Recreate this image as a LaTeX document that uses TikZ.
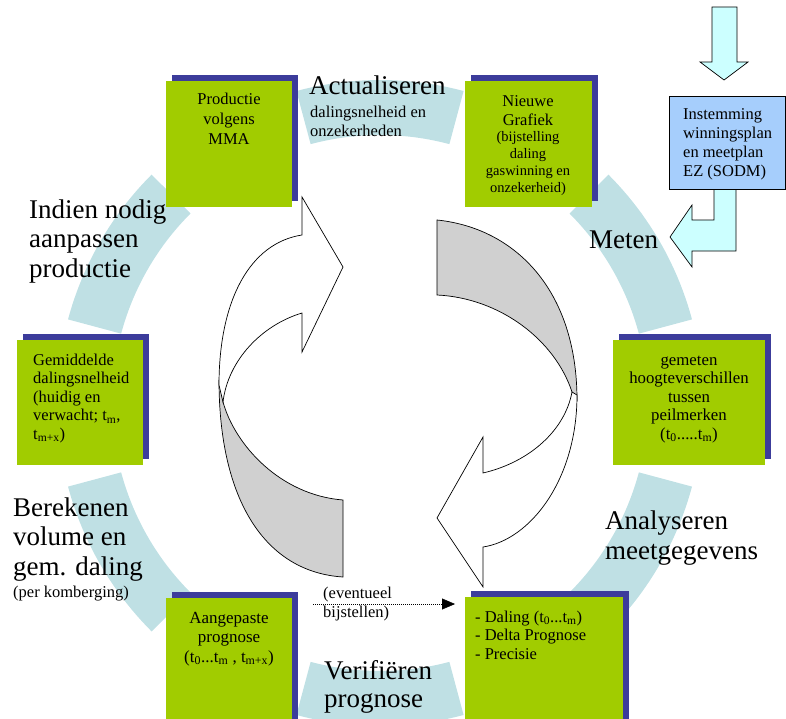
\documentclass[tikz,border=0pt]{standalone}
\usepackage{fontspec}
\setmainfont{Liberation Serif}
\usetikzlibrary{arrows.meta,calc}
\definecolor{ringc}{RGB}{191,224,228}
\definecolor{boxg}{RGB}{161,204,0}
\definecolor{shad}{RGB}{60,60,155}
\definecolor{instc}{RGB}{166,206,252}
\definecolor{arrc}{RGB}{204,255,255}
\definecolor{grayc}{RGB}{208,208,208}
\begin{document}
\begin{tikzpicture}[x=1pt,y=-1pt,
  ringseg/.style={fill=ringc},
  gbox/.style={fill=boxg, draw=none, inner sep=0pt, anchor=north west},
  sbox/.style={fill=shad, draw=none, inner sep=0pt, anchor=north west},
  arrg/.style={fill=grayc, draw=black, line width=0.7pt},
  arrw/.style={fill=white, draw=black, line width=0.7pt},
  blockarr/.style={fill=arrc, draw=black, line width=0.7pt},
  big/.style={font=\fontsize{27}{29.5}\selectfont, inner sep=0pt, align=left, anchor=base west},
  mid/.style={font=\fontsize{16.5}{19}\selectfont, inner sep=0pt},
  small/.style={font=\fontsize{14.5}{17}\selectfont, inner sep=0pt},
  sub/.style={font=\fontsize{16.5}{19}\selectfont, inner sep=0pt, align=left, anchor=base west}
]
\useasboundingbox (0,0) rectangle (786,719);
\clip (0,0) rectangle (786,719);

% ring segments
\begin{scope}[shift={(380,403)}]
\foreach \a/\b in {15/45,75/105,135/165,195/225,255/285,315/345}{
  \fill[ringseg] plot[domain=\a:\b, samples=24] (\x:323) -- plot[domain=\b:\a, samples=24] (\x:268) -- cycle;
}
\end{scope}

% central arrows
\filldraw[arrg] (219,380) .. controls (219,500) and (265,572) .. (343,577) -- (343,500) .. controls (280,495) and (235,445) .. (223,402) -- cycle;
\filldraw[arrw] (302,197) -- (343,267) -- (302,352) -- (302,313) .. controls (262,325) and (228,360) .. (223,402) -- (219,385) .. controls (219,300) and (250,243) .. (302,235) -- cycle;
\filldraw[arrg] (437,220) .. controls (515,228) and (577,290) .. (577,400) -- (572,392) .. controls (555,340) and (500,298) .. (437,295) -- cycle;
\filldraw[arrw] (577,395) .. controls (577,480) and (530,540) .. (483,547) -- (483,587) -- (437,518) -- (483,437) -- (483,473) .. controls (530,462) and (565,430) .. (572,392) -- cycle;

% green boxes with shadows
\node[sbox, minimum width=126pt, minimum height=126pt] (prodS) at (172,75) {};
\node[gbox, minimum width=126pt, minimum height=126pt] (prod) at (166,81) {};
\node[sbox, minimum width=127pt, minimum height=126pt] (nieuwS) at (471,75) {};
\node[gbox, minimum width=127pt, minimum height=126pt] (nieuw) at (465,81) {};
\node[sbox, minimum width=126pt, minimum height=125pt] (gemS) at (23,334) {};
\node[gbox, minimum width=126pt, minimum height=125pt] (gem) at (17,340) {};
\node[sbox, minimum width=152pt, minimum height=125pt] (metS) at (619,334) {};
\node[gbox, minimum width=152pt, minimum height=125pt] (met) at (613,340) {};
\node[sbox, minimum width=126pt, minimum height=140pt] (aangS) at (172,592) {};
\node[gbox, minimum width=126pt, minimum height=140pt] (aang) at (166,598) {};
\node[sbox, minimum width=158pt, minimum height=140pt] (dalS) at (471,591) {};
\node[gbox, minimum width=158pt, minimum height=140pt] (dal) at (465,597) {};

% top block arrow and bent arrow
\filldraw[blockarr] (712,7) -- (737,7) -- (737,62) -- (748,62) -- (724,80) -- (700,62) -- (712,62) -- cycle;
\fill[arrc] (714,185) -- (714,220) -- (692,220) -- (692,205) -- (670,237) -- (692,267) -- (692,251) -- (736,251) -- (736,185) -- cycle;
\draw[line width=0.7pt] (714,189) -- (714,220) -- (692,220) -- (692,205) -- (670,237) -- (692,267) -- (692,251) -- (736,251) -- (736,189);
\node[fill=instc, draw=black, line width=0.7pt, inner sep=0pt, anchor=north west, minimum width=116pt, minimum height=93pt] (inst) at (669,96) {};

% dotted connector
\coordinate (ds) at (313,604);
\coordinate (de) at (455,604);
\draw[dash pattern=on 1pt off 1pt, -{Triangle[length=13pt,width=11pt]}] (ds) -- (de);

% texts in boxes (base = baseline of last line)
\node[mid, align=center, anchor=base, font=\fontsize{16.5}{20}\selectfont] (prodT) at (229,145) {Productie\\volgens\\MMA};
\node[mid, align=center, anchor=base] (nieuwT) at (528,126) {Nieuwe\\Grafiek};
\node[small, align=center, anchor=base] (nieuwT2) at (528,193) {(bijstelling\\daling\\gaswinning en\\onzekerheid)};
\node[mid, align=left, anchor=base west] (instT) at (683,177) {Instemming\\winningsplan\\en meetplan\\EZ (SODM)};
\node[mid, align=left, anchor=base west, font=\fontsize{16.5}{18.5}\selectfont] (gemT) at (33,439) {Gemiddelde\\dalingsnelheid\\(huidig en\\verwacht; t\textsubscript{m},\\t\textsubscript{m+x})};
\node[mid, align=center, anchor=base, font=\fontsize{16.8}{18.5}\selectfont] (metT) at (689,439) {gemeten\\hoogteverschillen\\tussen\\peilmerken\\(t\textsubscript{0}.....t\textsubscript{m})};
\node[mid, align=center, anchor=base, font=\fontsize{17}{19.5}\selectfont] (aangT) at (229,662) {Aangepaste\\prognose\\(t\textsubscript{0}...t\textsubscript{m} , t\textsubscript{m+x})};
\node[mid, align=left, anchor=base west, font=\fontsize{16.5}{18.5}\selectfont] (dalT) at (475,659) {- Daling (t\textsubscript{0}...t\textsubscript{m})\\- Delta Prognose\\- Precisie};

% cycle labels
\node[big] (actT) at (309,95) {Actualiseren};
\node[sub] (actS) at (310,137) {dalingsnelheid en\\onzekerheden};
\node[big] (indT) at (29,277) {Indien nodig\\aanpassen\\productie};
\node[big] (berT) at (13,575) {Berekenen\\volume en\\gem. daling};
\node[sub] (berS) at (13,597) {(per komberging)};
\node[big] (metenT) at (589,248) {Meten};
\node[big] (anaT) at (605,559) {Analyseren\\meetgegevens};
\node[big, font=\fontsize{27}{27.5}\selectfont] (verT) at (324,707) {Verifiëren\\prognose};
\node[sub, font=\fontsize{16.5}{19}\selectfont] (evT) at (323,617) {(eventueel\\bijstellen)};
\end{tikzpicture}
\end{document}
